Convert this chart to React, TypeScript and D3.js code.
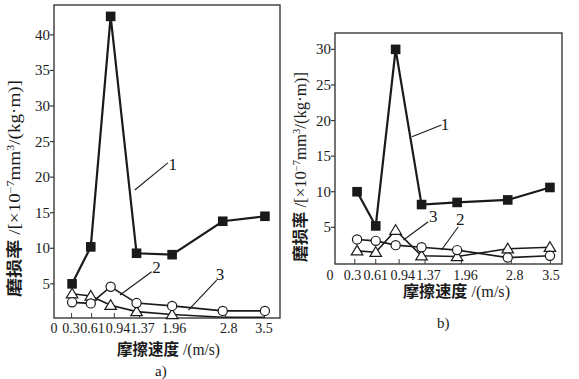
import React from "react";
import * as d3 from "d3";

// speeds (m/s)
const speeds = [0.3, 0.61, 0.94, 1.37, 1.96, 2.8, 3.5];
const xTicks = [0, 0.3, 0.61, 0.94, 1.37, 1.96, 2.8, 3.5];
const yTicksA = [5, 10, 15, 20, 25, 30, 35, 40];
const yTicksB = [5, 10, 15, 20, 25, 30];

// panel a)
const a1 = [5.0, 10.2, 42.6, 9.3, 9.1, 13.8, 14.5];
const a2 = [2.4, 2.25, 4.6, 2.3, 1.9, 1.2, 1.2];
const a3 = [3.6, 3.3, 2.0, 1.1, 0.7, 0.3, 0.3];
// panel b)
const b1 = [10.0, 5.2, 30.0, 8.2, 8.5, 8.85, 10.6];
const b2 = [3.3, 3.1, 2.5, 2.2, 1.8, 0.75, 1.0];
const b3 = [1.7, 1.5, 4.6, 1.0, 0.9, 2.0, 2.2];

// leader labels: [label, textX, textY, fromX, fromY, toX, toY] in data units
const notesA: [string, number, number, number, number, number, number][] = [
  ["1", 1.97, 21.0, 1.89, 22.0, 1.34, 18.2],
  ["2", 1.7, 6.53, 1.62, 6.71, 1.095, 3.43],
  ["3", 2.754, 5.54, 2.7, 5.54, 2.23, 1.32],
];
const notesB: [string, number, number, number, number, number, number][] = [
  ["1", 1.76, 18.67, 1.7, 19.37, 1.21, 17.72],
  ["3", 1.565, 5.79, 1.48, 5.79, 1.07, 3.22],
  ["2", 2.01, 5.32, 1.98, 5.08, 1.7, 1.81],
];

const SERIF = "'Liberation Serif', 'DejaVu Serif', serif";
const CJK = "'Noto Sans CJK SC', sans-serif";
const INK = "#1a1a1a";

type Note = [string, number, number, number, number, number, number];
type PanelProps = {
  xDomain: [number, number];
  xRange: [number, number];
  yDomain: [number, number];
  yRange: [number, number];
  yTicks: number[];
  s1: number[];
  s2: number[];
  s3: number[];
  notes: Note[];
  labelDx: number[];
  labelDy: number;
  yTitle: { x: number; y0: number; y1: number };
  xTitle: { x: number; y: number; w: number };
  tag: { text: string; x: number; y: number };
};

function Panel(p: PanelProps) {
  const x = d3.scaleLinear().domain(p.xDomain).range(p.xRange);
  const y = d3.scaleLinear().domain(p.yDomain).range(p.yRange);
  const [x0, x1] = p.xRange;
  const [yb, yt] = p.yRange;
  const line = d3
    .line<number>()
    .x((_, i) => x(speeds[i]))
    .y((d) => y(d));
  const tri = (cx: number, cy: number) => {
    const s = 5.5;
    return `M${cx},${cy - s}L${cx + s * 1.05},${cy + s * 0.75}L${cx - s * 1.05},${cy + s * 0.75}Z`;
  };
  return (
    <g>
      <rect x={x0} y={yt} width={x1 - x0} height={yb - yt} fill="none" stroke="#3a3a3a" strokeWidth={1.4} />
      {p.yTicks.map((t) => (
        <g key={"y" + t}>
          <line x1={x0 - 4} x2={x0} y1={y(t)} y2={y(t)} stroke="#3a3a3a" strokeWidth={1.2} />
          <text x={x0 - 4} y={y(t) + 5} textAnchor="end" fontFamily={SERIF} fontSize={15} fill={INK}>
            {t}
          </text>
        </g>
      ))}
      {xTicks.map((t, i) => {
        const cx = x(t) + p.labelDx[i];
        const tx = x(t) + p.labelDx[i] * 0.5;
        return (
          <g key={"x" + t}>
            {t > 0 && <line x1={tx} x2={tx} y1={yb} y2={yb - 5} stroke="#3a3a3a" strokeWidth={1} />}
            <text x={cx} y={yb + p.labelDy} textAnchor="middle" fontFamily={SERIF} fontSize={14} fill={INK}>
              {String(t)}
            </text>
          </g>
        );
      })}
      <path d={line(p.s3) || ""} fill="none" stroke={INK} strokeWidth={1.6} />
      <path d={line(p.s2) || ""} fill="none" stroke={INK} strokeWidth={1.6} />
      <path d={line(p.s1) || ""} fill="none" stroke={INK} strokeWidth={2.2} />
      {p.s3.map((v, i) =>
        v < 0.5 ? null : (
          <path key={"t" + i} d={tri(x(speeds[i]), y(v))} fill="#fff" stroke={INK} strokeWidth={1.2} />
        )
      )}
      {p.s2.map((v, i) => (
        <circle key={"c" + i} cx={x(speeds[i])} cy={y(v)} r={4.6} fill="#fff" stroke={INK} strokeWidth={1.2} />
      ))}
      {p.s1.map((v, i) => (
        <rect key={"s" + i} x={x(speeds[i]) - 4.8} y={y(v) - 4.8} width={9.6} height={9.6} fill={INK} />
      ))}
      {p.notes.map(([lab, tx, ty, fx, fy, ex, ey]) => (
        <g key={"n" + lab}>
          <line x1={x(fx)} y1={y(fy)} x2={x(ex)} y2={y(ey)} stroke={INK} strokeWidth={1.1} />
          <text x={x(tx)} y={y(ty)} textAnchor="middle" fontFamily={SERIF} fontSize={17} fill={INK}>
            {lab}
          </text>
        </g>
      ))}
      <text
        transform={`translate(${p.yTitle.x},${p.yTitle.y0}) rotate(-90)`}
        fontSize={16}
        fill={INK}
        textLength={p.yTitle.y0 - p.yTitle.y1}
        lengthAdjust="spacingAndGlyphs"
      >
        <tspan fontFamily={CJK} fontWeight="bold">磨损率</tspan>
        <tspan fontFamily={SERIF}> /[×10</tspan>
        <tspan fontFamily={SERIF} fontSize={10} dy={-6}>−7</tspan>
        <tspan fontFamily={SERIF} dy={6}>mm</tspan>
        <tspan fontFamily={SERIF} fontSize={10} dy={-6}>3</tspan>
        <tspan fontFamily={SERIF} dy={6}>/(kg·m)]</tspan>
      </text>
      <text x={p.xTitle.x} y={p.xTitle.y} fontSize={16} fill={INK} textLength={p.xTitle.w} lengthAdjust="spacingAndGlyphs">
        <tspan fontFamily={CJK} fontWeight="bold">摩擦速度</tspan>
        <tspan fontFamily={SERIF}> /(m/s)</tspan>
      </text>
      <text x={p.tag.x} y={p.tag.y} fontFamily={SERIF} fontSize={15} fill={INK}>
        {p.tag.text}
      </text>
    </g>
  );
}

export default function App() {
  return (
    <svg width={579} height={379} style={{ position: "fixed", left: 0, top: 0, background: "#fff" }}>
      <rect width={579} height={379} fill="#fff" />
      <Panel
        xDomain={[0, 3.75]}
        xRange={[54, 280]}
        yDomain={[0.2, 44.2]}
        yRange={[318, 5]}
        yTicks={yTicksA}
        s1={a1}
        s2={a2}
        s3={a3}
        notes={notesA}
        labelDx={[0, -1, 1.7, 7.3, 6, 2, 6, -1]}
        labelDy={14.5}
        yTitle={{ x: 20, y0: 297, y1: 80 }}
        xTitle={{ x: 117, y: 355, w: 103 }}
        tag={{ text: "a)", x: 155, y: 376 }}
      />
      <Panel
        xDomain={[-0.066, 3.7]}
        xRange={[335, 562]}
        yDomain={[-0.15, 32.3]}
        yRange={[264, 33]}
        yTicks={yTicksB}
        s1={b1}
        s2={b2}
        s3={b3}
        notes={notesB}
        labelDx={[-9, -4.5, 0, 7, 7, 8.5, 7, 1]}
        labelDy={16}
        yTitle={{ x: 306, y0: 262, y1: 72 }}
        xTitle={{ x: 403, y: 297, w: 107 }}
        tag={{ text: "b)", x: 437, y: 328 }}
      />
    </svg>
  );
}
